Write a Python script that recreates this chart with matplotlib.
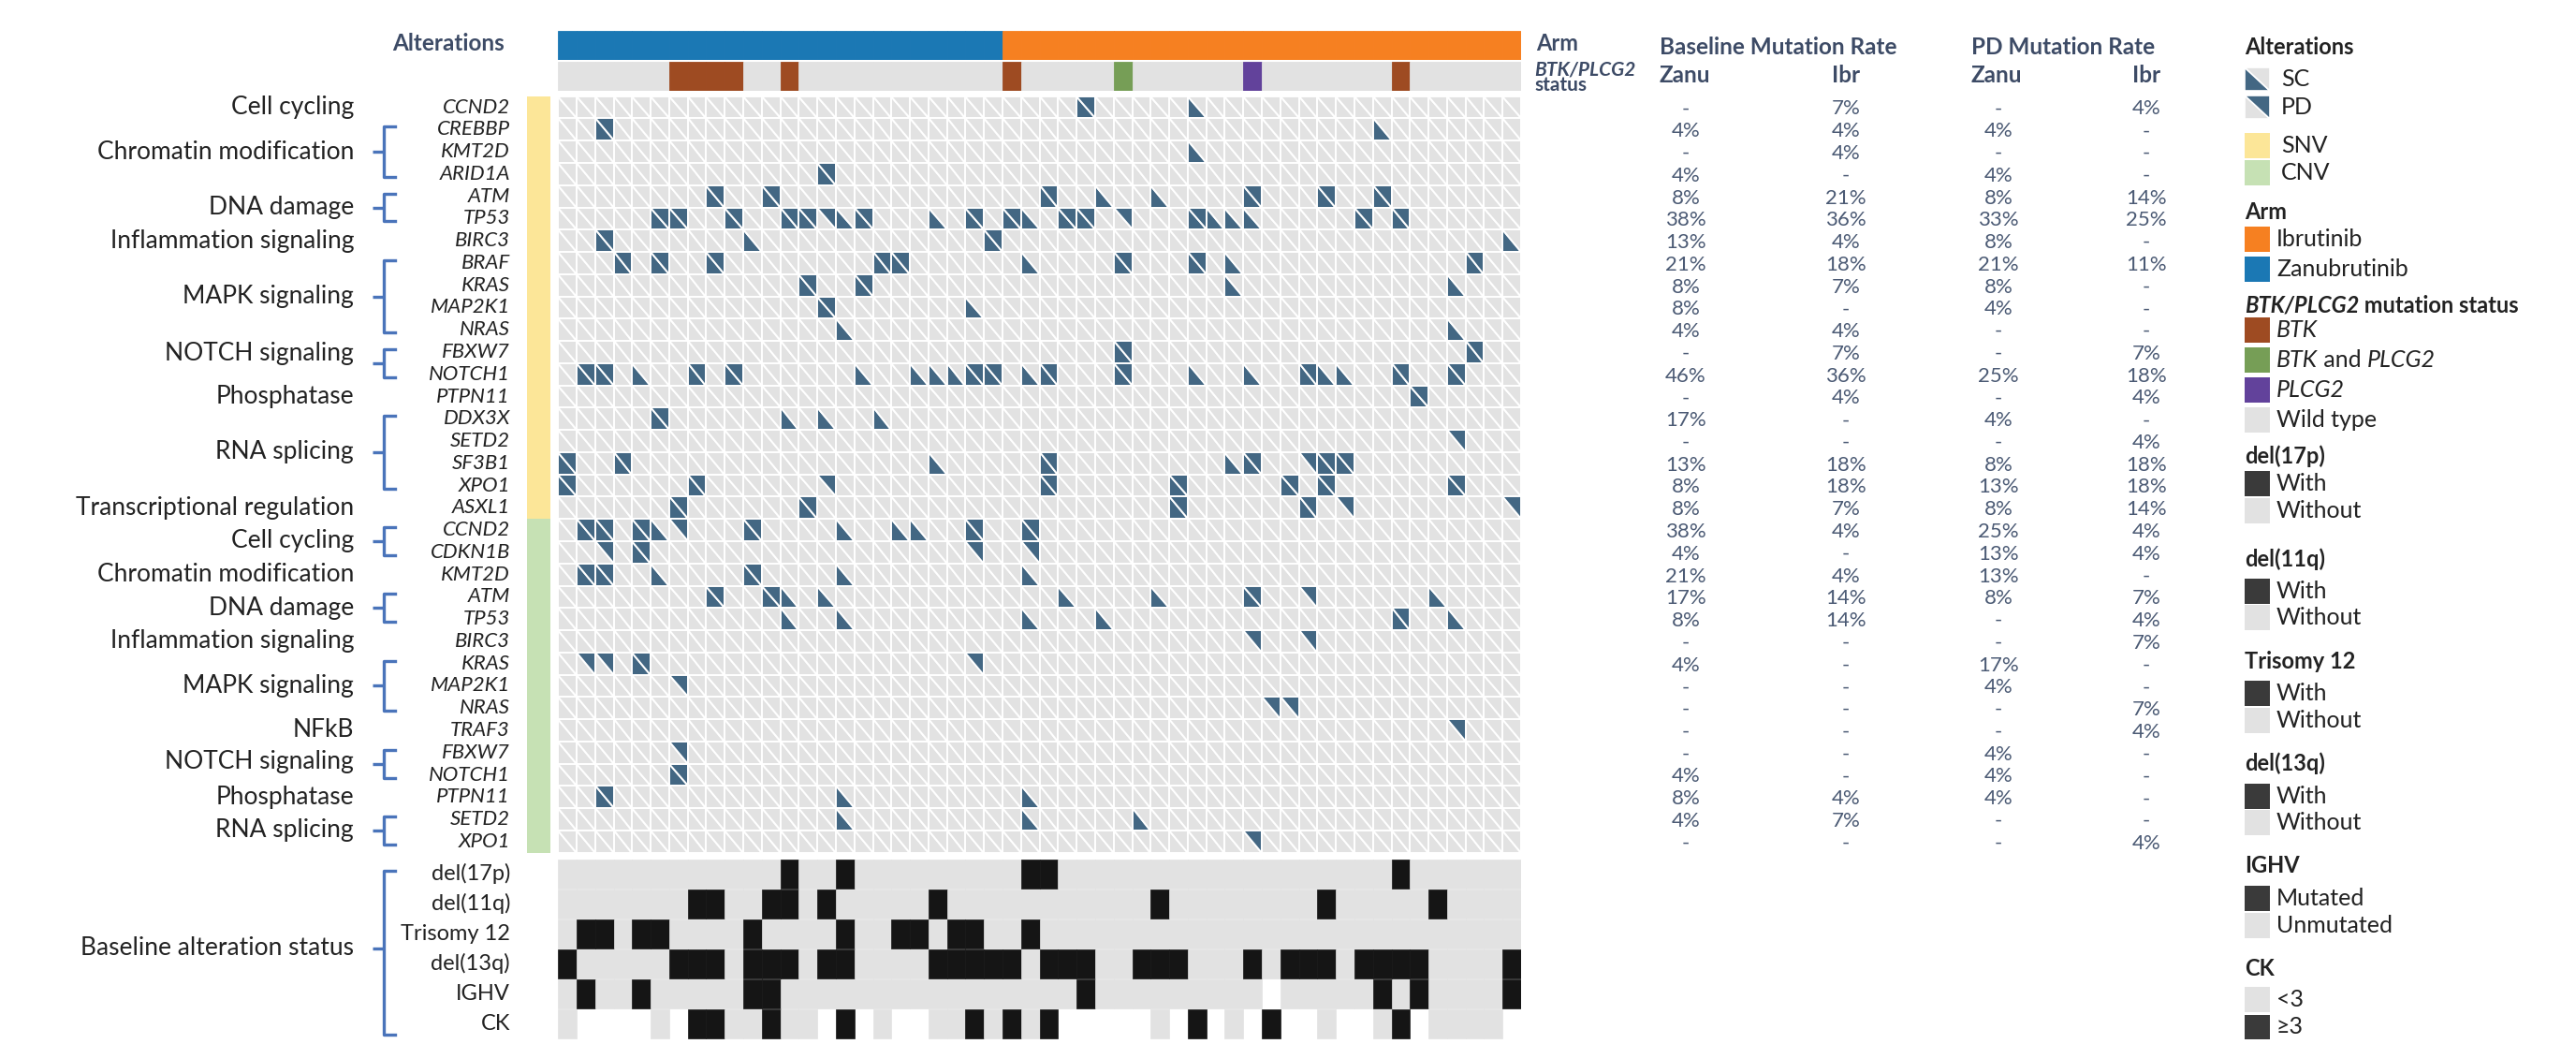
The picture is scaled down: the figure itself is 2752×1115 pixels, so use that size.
import numpy as np
import matplotlib
matplotlib.use('Agg')
import matplotlib.pyplot as plt
from matplotlib.collections import PolyCollection
from matplotlib.patches import Rectangle, Polygon
from matplotlib.transforms import blended_transform_factory

plt.rcParams['font.family'] = ['Lato', 'DejaVu Sans']

# ---------------------------------------------------------------- data
def row(s):
    return s.replace(' ', '')

n_zanu = 24
n_ibr = 28
arm = ['Zanubrutinib'] * n_zanu + ['Ibrutinib'] * n_ibr

# W wild type, B BTK, G BTK and PLCG2, P PLCG2
btk_status = row("WWWWWWBBBB WWBWWWWWWW WWWWBWWWWW GWWWWWWPWW WWWWWBWWWW WW")

snv_genes = ['CCND2', 'CREBBP', 'KMT2D', 'ARID1A', 'ATM', 'TP53', 'BIRC3', 'BRAF',
             'KRAS', 'MAP2K1', 'NRAS', 'FBXW7', 'NOTCH1', 'PTPN11', 'DDX3X', 'SETD2',
             'SF3B1', 'XPO1', 'ASXL1']
cnv_genes = ['CCND2', 'CDKN1B', 'KMT2D', 'ATM', 'TP53', 'BIRC3', 'KRAS', 'MAP2K1',
             'NRAS', 'TRAF3', 'FBXW7', 'NOTCH1', 'PTPN11', 'SETD2', 'XPO1']

# '.' none, 's' SC only, 'p' PD only, 'b' SC and PD
snv_calls = [
    row(".......... .......... ........b. ....s..... .......... .."),  # CCND2
    row("..b....... .......... .......... .......... ....s..... .."),  # CREBBP
    row(".......... .......... .......... ....s..... .......... .."),  # KMT2D
    row(".......... ....b..... .......... .......... .......... .."),  # ARID1A
    row("........b. .b........ ......b..s ..s....b.. .b..b..... .."),  # ATM
    row(".....bb..b ..bbpsb... s.b.bs.bb. p...bsss.. ...b.b.... .."),  # TP53
    row("..b....... s......... ...b...... .......... .......... .s"),  # BIRC3
    row("...b.b..b. .......bb. .....s.... b...b.s... .........b .."),  # BRAF
    row(".......... ...b..b... .......... ......s... ........s. .."),  # KRAS
    row(".......... ....b..... ..s....... .......... .......... .."),  # MAP2K1
    row(".......... .....s.... .......... .......... ........s. .."),  # NRAS
    row(".......... .......... .......... b......... .........b .."),  # FBXW7
    row(".bb.s..b.b ......s..s ssbb.sb... b...s..s.. bss..b..b. .."),  # NOTCH1
    row(".......... .......... .......... .......... ......b... .."),  # PTPN11
    row(".....b.... ..s.s..s.. .......... .......... .......... .."),  # DDX3X
    row(".......... .......... .......... .......... ........p. .."),  # SETD2
    row("b..b...... .......... s.....b... ......sb.. pbb....... .."),  # SF3B1
    row("b......b.. ....p..... ......b... ...b.....b .b......b. .."),  # XPO1
    row("......b... ...b...... .......... ...b...... b.p....... .p"),  # ASXL1
]
cnv_calls = [
    row(".bb.bsp... b....s..ss ..b..b.... .......... .......... .."),  # CCND2
    row("..p.b..... .......... ..p..p.... .......... .......... .."),  # CDKN1B
    row(".bb..s.... b....s.... .....s.... .......... .......... .."),  # KMT2D
    row("........b. .bs.s..... .......s.. ..s....b.. p......s.. .."),  # ATM
    row(".......... ..s..s.... .....s...s .......... .....b..s. .."),  # TP53
    row(".......... .......... .......... .......p.. p......... .."),  # BIRC3
    row(".pp.b..... .......... ..p....... .......... .......... .."),  # KRAS
    row("......p... .......... .......... .......... .......... .."),  # MAP2K1
    row(".......... .......... .......... ........pp .......... .."),  # NRAS
    row(".......... .......... .......... .......... ........p. .."),  # TRAF3
    row("......p... .......... .......... .......... .......... .."),  # FBXW7
    row("......b... .......... .......... .......... .......... .."),  # NOTCH1
    row("..b....... .....s.... .....s.... .......... .......... .."),  # PTPN11
    row(".......... .....s.... .....s.... .s........ .......... .."),  # SETD2
    row(".......... .......... .......... .......p.. .......... .."),  # XPO1
]

# (label, first row, last row, label offset in rows)
snv_groups = [('Cell cycling', 0, 0, 0), ('Chromatin modification', 1, 3, 0),
              ('DNA damage', 4, 5, 0), ('Inflammation signaling', 6, 6, 0),
              ('MAPK signaling', 7, 10, 0), ('NOTCH signaling', 11, 12, -0.45),
              ('Phosphatase', 13, 13, 0), ('RNA splicing', 14, 17, 0),
              ('Transcriptional regulation', 18, 18, 0)]
cnv_groups = [('Cell cycling', 19, 20, 0), ('Chromatin modification', 21, 21, 0),
              ('DNA damage', 22, 23, 0), ('Inflammation signaling', 24, 24, 0),
              ('MAPK signaling', 25, 27, 0), ('NFkB', 28, 28, 0),
              ('NOTCH signaling', 29, 30, -0.1), ('Phosphatase', 31, 31, 0),
              ('RNA splicing', 32, 33, 0)]

base_names = ['del(17p)', 'del(11q)', 'Trisomy 12', 'del(13q)', 'IGHV', 'CK']
# '1' with / mutated / >=3, '0' without / unmutated / <3, '-' missing
base_calls = [
    row("0000000000 0010010000 0000011000 0000000000 0000010000 00"),
    row("0000000110 0110100000 1000000000 0010000000 0100000100 00"),
    row("0110110000 1000010011 0110010000 0000000000 0000000000 00"),
    row("1000001110 1110110000 1111101110 0111000101 1101111000 01"),
    row("0100100000 1100000000 0000000010 00000000-0 0000101000 01"),
    row("0----0-110 0100-1-0-- 0010101--- --0-1-0-1- -0--01-000 0-"),
]

base_zanu = ['-', '4%', '-', '4%', '8%', '38%', '13%', '21%', '8%', '8%', '4%', '-', '46%', '-',
             '17%', '-', '13%', '8%', '8%',
             '38%', '4%', '21%', '17%', '8%', '-', '4%', '-', '-', '-', '-', '4%', '8%', '4%', '-']
base_ibr = ['7%', '4%', '4%', '-', '21%', '36%', '4%', '18%', '7%', '-', '4%', '7%', '36%', '4%',
            '-', '-', '18%', '18%', '7%',
            '4%', '-', '4%', '14%', '14%', '-', '-', '-', '-', '-', '-', '-', '4%', '7%', '-']
pd_zanu = ['-', '4%', '-', '4%', '8%', '33%', '8%', '21%', '8%', '4%', '-', '-', '25%', '-',
           '4%', '-', '8%', '13%', '8%',
           '25%', '13%', '13%', '8%', '-', '-', '17%', '4%', '-', '-', '4%', '4%', '4%', '-', '-']
pd_ibr = ['4%', '-', '-', '-', '14%', '25%', '-', '11%', '-', '-', '-', '7%', '18%', '4%',
          '-', '4%', '18%', '18%', '14%',
          '4%', '4%', '-', '7%', '4%', '7%', '-', '-', '7%', '4%', '-', '-', '-', '-', '4%']

# ---------------------------------------------------------------- style
C_ZANU = '#1B78B4'
C_IBR = '#F68021'
C_BTK = '#9E4B22'
C_BOTH = '#769E56'
C_PLCG2 = '#62429B'
C_GRAY = '#E2E2E2'
C_MUT = '#436783'
C_BLACK = '#151515'
C_WITH = '#3A3A3A'
C_SNV = '#FCE698'
C_CNV = '#C6E1B4'
C_BRACE = '#4A74BA'
C_TXT = '#222222'
C_HDR = '#3D4B66'
C_VAL = '#4B5A74'
btk_colors = {'W': C_GRAY, 'B': C_BTK, 'G': C_BOTH, 'P': C_PLCG2}
arm_colors = {'Zanubrutinib': C_ZANU, 'Ibrutinib': C_IBR}

FS_GENE = 16
FS_CAT = 19
FS_BASE = 17
FS_VAL = 16
FS_HDR = 17.5
FS_LT = 17
FS_LI = 18

W, H = 2752, 1115
fig = plt.figure(figsize=(W / 100, H / 100), dpi=100)
fig.patch.set_facecolor('white')


def fx(px):
    return px / W


def fy(py):
    return 1 - py / H


def add_ax(x0, y0, x1, y1):
    ax = fig.add_axes([fx(x0), fy(y1), (x1 - x0) / W, (y1 - y0) / H])
    ax.set_axis_off()
    return ax


GX0, GX1 = 596.2, 1625.0
GY0, GY1 = 102.7, 910.7
ncol = len(arm)
calls = snv_calls + cnv_calls
genes = snv_genes + cnv_genes
nrow = len(calls)

# ---------------------------------------------------------------- arm bar
axA = add_ax(GX0, 32.7, GX1, 63.7)
axA.set_xlim(0, ncol)
axA.set_ylim(1, 0)
cols_arm = [arm_colors[a] for a in arm]
axA.bar(np.arange(ncol), 1, width=1, bottom=0, align='edge', color=cols_arm,
        edgecolor=cols_arm, linewidth=0.6)

# ---------------------------------------------------------------- BTK status
axS = add_ax(GX0, 66.0, GX1, 97.0)
axS.set_xlim(0, ncol)
axS.set_ylim(1, 0)
cols_btk = [btk_colors[s] for s in btk_status]
axS.bar(np.arange(ncol), 1, width=1, bottom=0, align='edge', color=cols_btk,
        edgecolor=cols_btk, linewidth=0.6)

# ---------------------------------------------------------------- mutation grid
ax = add_ax(GX0, GY0, GX1, GY1)
ax.set_xlim(0, ncol)
ax.set_ylim(nrow, 0)
polys, fcs = [], []
for r, s in enumerate(calls):
    for c, ch in enumerate(s):
        lower_left = [(c, r), (c, r + 1), (c + 1, r + 1)]
        upper_right = [(c, r), (c + 1, r), (c + 1, r + 1)]
        polys.append(lower_left)
        fcs.append(C_MUT if ch in 'sb' else C_GRAY)
        polys.append(upper_right)
        fcs.append(C_MUT if ch in 'pb' else C_GRAY)
ax.add_collection(PolyCollection(polys, facecolors=fcs, edgecolors='white', linewidths=1.4))

trG = blended_transform_factory(fig.transFigure, ax.transData)
# SNV / CNV strips
ax.add_patch(Rectangle((fx(562.6), 0), fx(588.2) - fx(562.6), len(snv_calls), transform=trG,
                       facecolor=C_SNV, edgecolor='none', clip_on=False))
ax.add_patch(Rectangle((fx(562.6), len(snv_calls)), fx(588.2) - fx(562.6), len(cnv_calls),
                       transform=trG, facecolor=C_CNV, edgecolor='none', clip_on=False))

# gene labels
for r, g in enumerate(genes):
    ax.text(fx(545), r + 0.5, g, transform=trG, ha='right', va='center', style='italic',
            fontsize=FS_GENE, color=C_TXT)


def brace(axx, tr, y0, y1, ym):
    xv, xr, xl = fx(409.5), fx(421.5), fx(398.0)
    axx.plot([xr, xv, xv, xr], [y0, y0, y1, y1], transform=tr, color=C_BRACE, lw=2.4,
             clip_on=False, solid_joinstyle='round')
    axx.plot([xl, xv], [ym, ym], transform=tr, color=C_BRACE, lw=2.4, clip_on=False,
             solid_capstyle='butt')


for name, a, b, off in snv_groups + cnv_groups:
    ym = (a + b + 1) / 2
    ax.text(fx(378), ym + off, name, transform=trG, ha='right', va='center', fontsize=FS_CAT,
            color=C_TXT)
    if b > a:
        brace(ax, trG, a + 0.37, b + 0.63, ym)

# mutation-rate table
for r in range(nrow):
    yv = r + 0.58
    for xc, vals in ((1801, base_zanu), (1972, base_ibr), (2135, pd_zanu), (2293, pd_ibr)):
        ax.text(fx(xc), yv, vals[r], transform=trG, ha='center', va='center',
                fontsize=FS_VAL, color=C_VAL)

# ---------------------------------------------------------------- baseline rows
axB = add_ax(GX0, 917.7, GX1, 1109.7)
axB.set_xlim(0, ncol)
axB.set_ylim(len(base_calls), 0)
for r, s in enumerate(base_calls):
    xs = [c for c, ch in enumerate(s) if ch != '-']
    cc = [C_BLACK if s[c] == '1' else C_GRAY for c in xs]
    axB.bar(xs, 0.965, width=1, bottom=r, align='edge', color=cc, edgecolor=cc, linewidth=0.5)
trB = blended_transform_factory(fig.transFigure, axB.transData)
for r, nm in enumerate(base_names):
    axB.text(fx(545), r + 0.48, nm, transform=trB, ha='right', va='center', fontsize=FS_BASE,
             color=C_TXT)
axB.text(fx(378), 2.97, 'Baseline alteration status', transform=trB, ha='right', va='center',
         fontsize=FS_CAT, color=C_TXT)
brace(axB, trB, 0.37, 5.84, 2.97)

# ---------------------------------------------------------------- headers
renderer = fig.canvas.get_renderer()


def rich(x, y, parts, size, color):
    cur = x
    for txt, st, wt in parts:
        t = fig.text(fx(cur), fy(y), txt, fontsize=size, style=st, fontweight=wt,
                     color=color, ha='left', va='center')
        cur += t.get_window_extent(renderer).width


fig.text(fx(539), fy(47), 'Alterations', ha='right', va='center', fontsize=FS_HDR,
         fontweight='bold', color=C_HDR)
fig.text(fx(1641), fy(47), 'Arm', ha='left', va='center', fontsize=17, fontweight='bold',
         color=C_HDR)
fig.text(fx(1639), fy(74), 'BTK/PLCG2', ha='left', va='center', fontsize=15, fontweight='bold',
         style='italic', color=C_HDR)
fig.text(fx(1639), fy(91), 'status', ha='left', va='center', fontsize=15, fontweight='bold',
         color=C_HDR)
fig.text(fx(1773), fy(50), 'Baseline Mutation Rate', ha='left', va='center', fontsize=FS_HDR,
         fontweight='bold', color=C_HDR)
fig.text(fx(2106), fy(50), 'PD Mutation Rate', ha='left', va='center', fontsize=FS_HDR,
         fontweight='bold', color=C_HDR)
for xc, lab, ha in ((1773, 'Zanu', 'left'), (1972, 'Ibr', 'center'), (2106, 'Zanu', 'left'),
                    (2293, 'Ibr', 'center')):
    fig.text(fx(xc), fy(81), lab, ha=ha, va='center', fontsize=FS_HDR, fontweight='bold',
             color=C_HDR)

# ---------------------------------------------------------------- legend
ov = fig.add_axes([0, 0, 1, 1])
ov.set_axis_off()
ov.set_xlim(0, W)
ov.set_ylim(H, 0)
ov.patch.set_alpha(0)

LX, PW, PH = 2398, 27, 26.5
leg_titles = [('Alterations', 51), ('Arm', 226), ('del(17p)', 487), ('del(11q)', 597),
              ('Trisomy 12', 707), ('del(13q)', 815), ('IGHV', 924), ('CK', 1034)]
for t, y in leg_titles:
    ov.text(LX, y, t, ha='left', va='center', fontsize=FS_LT, fontweight='bold', color=C_TXT)
rich(LX, 326, [('BTK/PLCG2', 'italic', 'bold'), (' mutation status', 'normal', 'bold')],
     FS_LT, C_TXT)

# triangle icons
for y0, lab, dark in ((72, 'SC', 'll'), (102, 'PD', 'ur')):
    x0, x1, y1 = LX, LX + PW, y0 + 25
    ll = [(x0, y0), (x0, y1), (x1, y1)]
    ur = [(x0, y0), (x1, y0), (x1, y1)]
    ov.add_patch(Polygon(ll, closed=True, facecolor=C_MUT if dark == 'll' else C_GRAY,
                         edgecolor='white', linewidth=1.2))
    ov.add_patch(Polygon(ur, closed=True, facecolor=C_MUT if dark == 'ur' else C_GRAY,
                         edgecolor='white', linewidth=1.2))
    ov.text(2437, y0 + 13, lab, ha='left', va='center', fontsize=FS_LI, color=C_TXT)

leg_items = [
    ('SNV', 142, C_SNV, 2437), ('CNV', 171, C_CNV, 2437),
    ('Ibrutinib', 242, C_IBR, 2432), ('Zanubrutinib', 274, C_ZANU, 2432),
    ('Wild type', 435, C_GRAY, 2432),
    ('With', 503, C_WITH, 2432), ('Without', 532, C_GRAY, 2432),
    ('With', 618, C_WITH, 2432), ('Without', 646, C_GRAY, 2432),
    ('With', 727, C_WITH, 2432), ('Without', 756, C_GRAY, 2432),
    ('With', 837, C_WITH, 2432), ('Without', 865, C_GRAY, 2432),
    ('Mutated', 946, C_WITH, 2432), ('Unmutated', 975, C_GRAY, 2432),
    ('<3', 1054, C_GRAY, 2432), ('\u22653', 1083.5, C_WITH, 2432),
]
for lab, y, col, tx in leg_items:
    ov.add_patch(Rectangle((LX, y), PW, PH, facecolor=col, edgecolor='none'))
    ov.text(tx, y + PH / 2, lab, ha='left', va='center', fontsize=FS_LI, color=C_TXT)

for y, col, parts in ((339, C_BTK, [('BTK', 'italic', 'normal')]),
                      (371, C_BOTH, [('BTK', 'italic', 'normal'), (' and ', 'normal', 'normal'),
                                     ('PLCG2', 'italic', 'normal')]),
                      (403, C_PLCG2, [('PLCG2', 'italic', 'normal')])):
    ov.add_patch(Rectangle((LX, y), PW, PH, facecolor=col, edgecolor='none'))
    rich(2432, y + PH / 2, parts, FS_LI, C_TXT)

fig.savefig('out.png', dpi=100, facecolor='white')
